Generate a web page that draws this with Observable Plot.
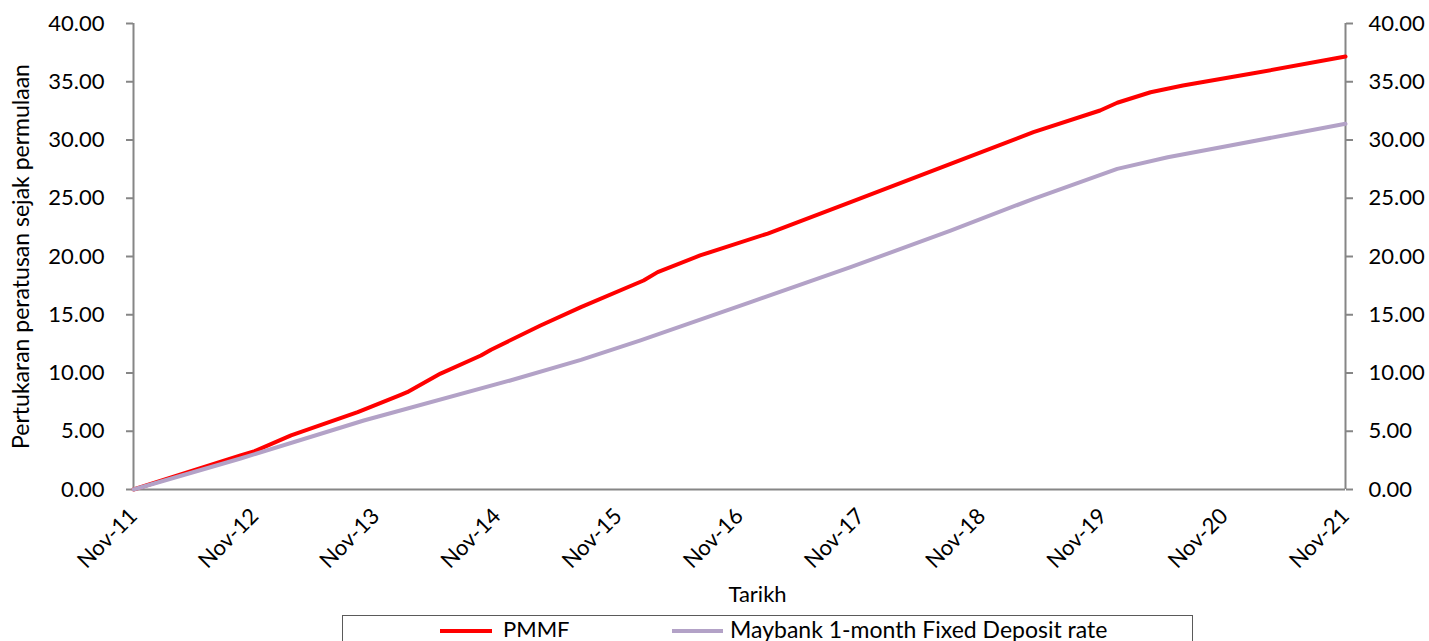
<!DOCTYPE html>
<html><head><meta charset="utf-8">
<script src="https://cdn.jsdelivr.net/npm/d3@7"></script>
<script src="https://cdn.jsdelivr.net/npm/@observablehq/plot@0.6"></script>
<style>
html,body{margin:0;padding:0;background:#fff;font-family:Lato,sans-serif;}
#chart svg{display:block;}
#legend{position:absolute;left:342px;top:615px;width:851px;height:40px;border:1px solid #5a5a5a;box-sizing:border-box;background:#fff;}
.sw{position:absolute;top:13px;height:4px;}
.lt{position:absolute;top:2px;font-size:22px;line-height:22px;color:#000;white-space:nowrap;}
</style></head><body>
<div id="chart"></div>
<div id="legend"></div>
<script>
// x labels (one per year, every 12 months from Nov-11)
const monthLabels = ["Nov-11","Nov-12","Nov-13","Nov-14","Nov-15","Nov-16","Nov-17","Nov-18","Nov-19","Nov-20","Nov-21"];
const yTicks = [0,5,10,15,20,25,30,35,40];
// months since Nov-11 and cumulative % change
const pmmfMonths = [0,10.6,12,15.6,22.2,26.4,27.1,30.4,34.4,35.4,40.3,44.3,50.5,51.9,56.1,62.8,71.0,80.9,89.1,95.7,97.4,100.7,103.9,110.6,120];
const pmmfValues = [0,2.92,3.3,4.64,6.64,8.1,8.35,9.95,11.5,12.0,14.08,15.65,17.94,18.66,20.09,21.97,24.66,27.96,30.67,32.53,33.2,34.1,34.68,35.68,37.17];
const fdMonths = [0,10.6,22.8,37.3,44.3,50.2,61.1,71.0,80.9,89.1,97.4,102.4,108.6,120];
const fdValues = [0,2.66,5.92,9.36,11.13,12.8,16.08,19.08,22.23,24.95,27.52,28.52,29.53,31.39];
const seriesNames = ["PMMF","Maybank 1-month Fixed Deposit rate"];
const seriesColors = ["#ff0000","#b3a2c7"];

const pmmf = pmmfMonths.map((m,i)=>({m, v:pmmfValues[i]}));
const fd = fdMonths.map((m,i)=>({m, v:fdValues[i]}));
const tickMonths = monthLabels.map((_,i)=>i*12);

const W=1429, H=612, plotBottom=489;
const axisColor="#868686";
const chart = Plot.plot({
  width:W, height:H,
  marginLeft:133, marginRight:84, marginTop:23, marginBottom:H-plotBottom,
  style:{fontFamily:"Lato, sans-serif", fontSize:"22px", color:"#000", background:"#fff", overflow:"visible"},
  x:{domain:[0,120]},
  y:{domain:[0,40]},
  marks:[
    Plot.axisY({anchor:"left", ticks:yTicks, tickSize:7, tickPadding:22, tickFormat:d=>d.toFixed(2), stroke:axisColor, strokeWidth:2, fill:"#000", label:null}),
    Plot.axisY({anchor:"right", ticks:yTicks, tickSize:7, tickPadding:16, tickFormat:d=>d.toFixed(2), stroke:axisColor, strokeWidth:2, fill:"#000", label:null}),
    Plot.axisX({ticks:tickMonths, tickFormat:(d,i)=>monthLabels[Math.round(d/12)], tickSize:0, tickPadding:23, tickRotate:-45, fill:"#000", label:null}),
    Plot.ruleX([0,120],{stroke:axisColor, strokeWidth:2}),
    Plot.ruleY([0],{stroke:axisColor, strokeWidth:2}),
    Plot.lineY(pmmf,{x:"m", y:"v", stroke:seriesColors[0], strokeWidth:4}),
    Plot.lineY(fd,{x:"m", y:"v", stroke:seriesColors[1], strokeWidth:4}),
    Plot.text(["Pertukaran peratusan sejak permulaan"],{frameAnchor:"left", dx:-112, rotate:-90, textAnchor:"middle", fontSize:23, fill:"#000"}),
    Plot.text(["Tarikh"],{frameAnchor:"bottom", dx:18, dy:112, textAnchor:"middle", fontSize:22, fill:"#000"})
  ]
});
document.getElementById("chart").appendChild(chart);

const lg = document.getElementById("legend");
const pos = [{sw:97, w:52, t:160, fs:22},{sw:329, w:51, t:387, fs:23}];
seriesNames.forEach((n,i)=>{
  const s=document.createElement("div"); s.className="sw";
  s.style.left=pos[i].sw+"px"; s.style.width=pos[i].w+"px"; s.style.background=seriesColors[i];
  lg.appendChild(s);
  const t=document.createElement("div"); t.className="lt"; t.style.left=pos[i].t+"px"; t.style.fontSize=pos[i].fs+"px"; t.textContent=n;
  lg.appendChild(t);
});
</script>
</body></html>
